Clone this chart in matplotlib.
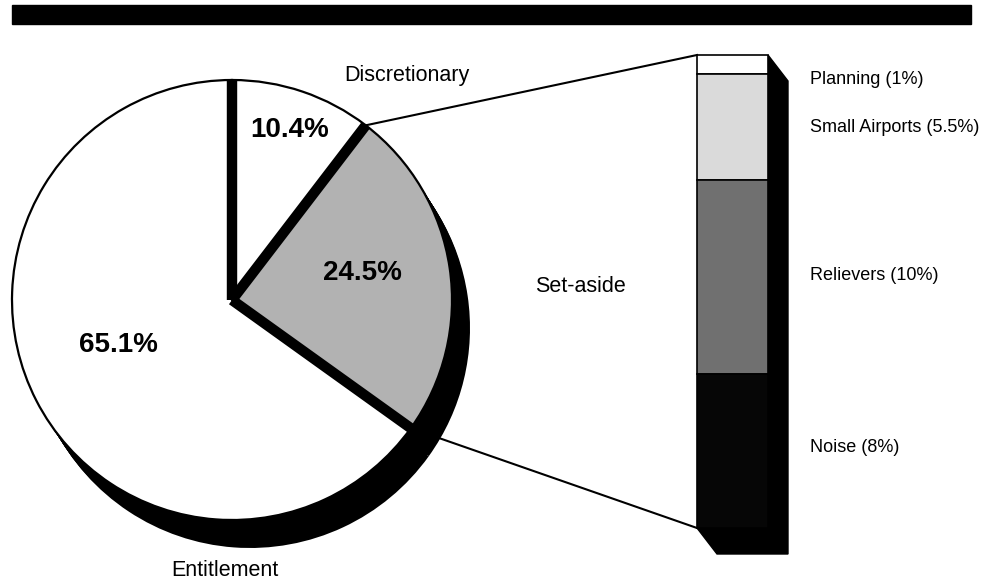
import matplotlib.pyplot as plt
from matplotlib.patches import Wedge, Rectangle, Polygon
import numpy as np

plt.rcParams['font.family'] = ['Liberation Sans', 'DejaVu Sans']

# pie: share of total (%)
pie_labels = ['Discretionary', 'Set-aside', 'Entitlement']
pie_values = [10.4, 24.5, 65.1]
pie_pct = ['10.4%', '24.5%', '65.1%']
pie_colors = ['white', '#b2b2b2', 'white']

# set-aside breakdown, top to bottom (%)
sa_labels = ['Planning (1%)', 'Small Airports (5.5%)', 'Relievers (10%)', 'Noise (8%)']
sa_values = [1.0, 5.5, 10.0, 8.0]
sa_colors = ['white', '#dadada', '#707070', '#060606']

W, H = 1002, 583
fig = plt.figure(figsize=(W / 100, H / 100), dpi=100)
ax = fig.add_axes([0, 0, 1, 1])
ax.set_xlim(0, W)
ax.set_ylim(0, H)
ax.axis('off')

# black header band
ax.add_patch(Rectangle((12, H - 24), 959, 19, color='black', zorder=5))

# pie geometry
cx, cy, R = 232, H - 300, 220
depth = np.array([18, -28])
# slice boundaries, starting at 12 o'clock and going clockwise
bounds = 90 - 3.6 * np.concatenate([[0], np.cumsum(pie_values)])

# 3D side (black) of the set-aside and entitlement slices
for i in (1, 2):
    for t in np.linspace(0, 1, 15):
        ax.add_patch(Wedge((cx + t * depth[0], cy + t * depth[1]), R,
                           bounds[i + 1], bounds[i], color='black', lw=0, zorder=1))

for i in range(3):
    ax.add_patch(Wedge((cx, cy), R, bounds[i + 1], bounds[i],
                       facecolor=pie_colors[i], edgecolor='black', lw=1.6, zorder=2))

# thick separators between slices
for b in bounds[:3]:
    a = np.radians(b)
    ax.plot([cx, cx + R * np.cos(a)], [cy, cy + R * np.sin(a)],
            color='black', lw=7.5, solid_capstyle='butt', zorder=3)

pct_pos = [(290, 130), (362, 273), (118, 345)]
for txt, (px, py) in zip(pie_pct, pct_pos):
    ax.text(px, H - py, txt, fontsize=20, fontweight='bold', ha='center', va='center', zorder=4)

ax.text(407, H - 76, pie_labels[0], fontsize=15.5, ha='center', va='center')
ax.text(580, H - 286, pie_labels[1], fontsize=15.5, ha='center', va='center')
ax.text(225, H - 570, pie_labels[2], fontsize=15.5, ha='center', va='center')

# stacked bar for the set-aside
bx, bw = 697, 71
btop, bbot = H - 55, H - 528
scale = (btop - bbot) / sum(sa_values)
heights = np.array(sa_values) * scale
bottoms = btop - np.cumsum(heights)
bd = np.array([20, -26])
ax.add_patch(Polygon([(bx + bw, btop), (bx + bw + bd[0], btop + bd[1]),
                      (bx + bw + bd[0], bbot + bd[1]), (bx + bd[0], bbot + bd[1]),
                      (bx, bbot), (bx + bw, bbot)], closed=True, color='black', zorder=1))
ax.bar(bx + bw / 2, heights, bottom=bottoms, width=bw, color=sa_colors,
       edgecolor='black', linewidth=1.2, zorder=2)

label_y = [79, 128, 275, 447]
for lab, ly in zip(sa_labels, label_y):
    ax.text(810, H - ly, lab, fontsize=13, ha='left', va='center')

# connector lines from the set-aside slice to the bar
a_top, a_bot = np.radians(bounds[1]), np.radians(bounds[2])
ax.plot([cx + R * np.cos(a_top), bx], [cy + R * np.sin(a_top), btop],
        color='black', lw=1.5, zorder=0.5)
ax.plot([cx + R * np.cos(a_bot), bx], [cy + R * np.sin(a_bot), bbot],
        color='black', lw=1.5, zorder=0.5)

fig.savefig('out.png', dpi=100)
